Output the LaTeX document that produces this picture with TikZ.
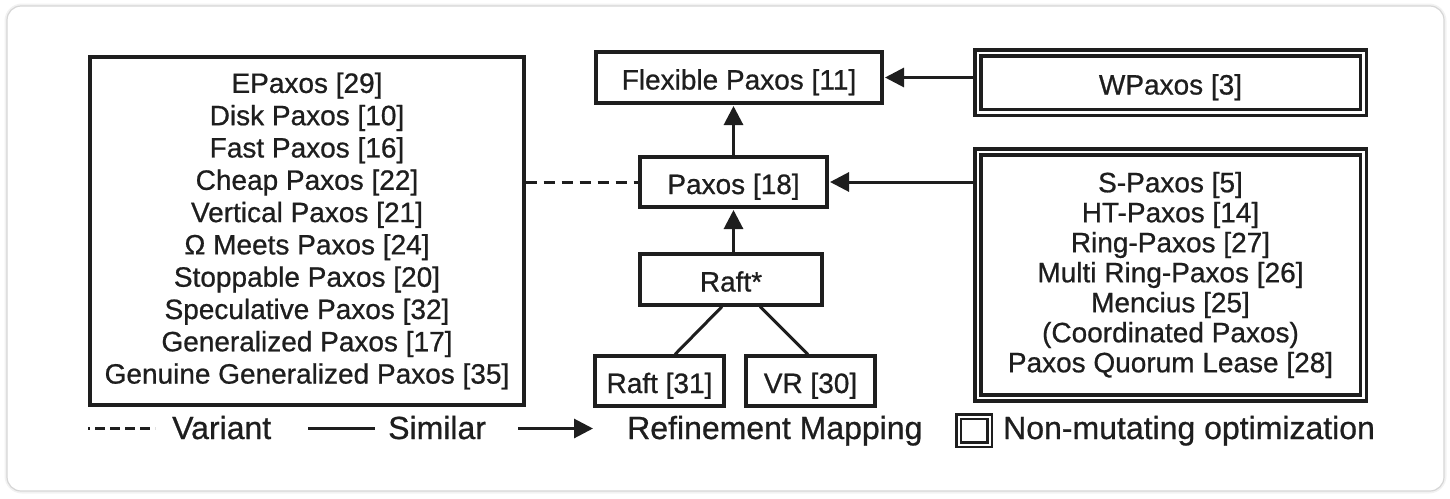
\documentclass[tikz,border=0pt]{standalone}
\usepackage{fontspec}
\setmainfont[FakeBold=0.7]{Liberation Sans}
\usetikzlibrary{arrows.meta,calc}
\definecolor{ink}{HTML}{1E1E1E}
\begin{document}
\begin{tikzpicture}[x=1pt,y=-1pt,
  box/.style={draw=ink, line width=3.2pt, inner sep=0pt, text=ink,
    font=\fontsize{28}{32.3}\selectfont, align=center},
  single/.style={text height=24pt, text depth=0pt},
  dbox/.style={box, double=white, double distance=2.5pt, line width=3.5pt},
  conn/.style={draw=ink, line width=3pt},
  refine/.style={conn, -{Triangle[length=19pt,width=19pt]}, shorten >=1.4pt},
  variant/.style={conn, dash pattern=on 11pt off 7pt},
  legtext/.style={anchor=base west, inner sep=0pt, text=ink,
    font=\fontsize{32}{36}\selectfont}
]
\useasboundingbox (0,0) rectangle (1450,498);
% card
\draw[black!5, line width=5pt, rounded corners=15pt] (7,6) rectangle (1444,491);
\draw[black!16, line width=1.2pt, rounded corners=14pt, fill=white] (7,6) rectangle (1444,491);

% nodes
\node[box, minimum width=434pt, minimum height=348pt] (variants) at (307,231)
  {EPaxos [29]\\Disk Paxos [10]\\Fast Paxos [16]\\Cheap Paxos [22]\\Vertical Paxos [21]\\%
   Ω Meets Paxos [24]\\Stoppable Paxos [20]\\Speculative Paxos [32]\\Generalized Paxos [17]\\%
   Genuine Generalized Paxos [35]};
\node[box, single, minimum width=286pt, minimum height=51pt] (flex) at (739,77.5) {Flexible Paxos [11]};
\node[box, single, minimum width=187pt, minimum height=50pt] (paxos) at (733.5,182) {Paxos [18]};
\node[box, single, minimum width=182pt, minimum height=51pt] (raftstar) at (731,279.5) {Raft*};
\node[box, single, minimum width=129pt, minimum height=50pt] (raft) at (659.5,381) {Raft [31]};
\node[box, single, minimum width=129pt, minimum height=50pt] (vr) at (810.5,381) {VR [30]};
\node[dbox, single, minimum width=385.5pt, minimum height=59.5pt] (wpaxos) at (1170.5,82.5) {WPaxos [3]};
\node[dbox, minimum width=385.5pt, minimum height=246pt, font=\fontsize{28}{30}\selectfont] (opts) at (1170.5,275)
  {S-Paxos [5]\\HT-Paxos [14]\\Ring-Paxos [27]\\Multi Ring-Paxos [26]\\Mencius [25]\\%
   (Coordinated Paxos)\\Paxos Quorum Lease [28]};

% connectors
\draw[refine] (paxos.north) -- (paxos.north |- flex.south);
\draw[refine, shorten <=3.5pt] (wpaxos.west |- flex.east) -- (flex.east);
\draw[refine, shorten <=3.5pt] (opts.west |- paxos.east) -- (paxos.east);
\draw[refine] (paxos.south |- raftstar.north) -- (paxos.south);
\draw[variant] (variants.east |- paxos.west) -- (paxos.west);
\draw[conn] ($(raftstar.south)+(-9,0)$) -- ($(raft.north)+(15.5,0)$);
\draw[conn] ($(raftstar.south)+(29,0)$) -- ($(vr.north)+(-2.5,0)$);

% legend
\coordinate (v1) at (88,428.5);
\coordinate (v2) at (155,428.5);
\draw[conn, line width=2.8pt, dash pattern=on 10pt off 5pt, dash phase=8pt] (v1) -- (v2);
\node[legtext] (lvar) at (172,439) {Variant};
\coordinate (s1) at (308,428.5);
\coordinate (s2) at (375,428.5);
\draw[conn] (s1) -- (s2);
\node[legtext] (lsim) at (388,439) {Similar};
\coordinate (r1) at (518,428.5);
\coordinate (r2) at (593,428.5);
\draw[refine, shorten >=0pt] (r1) -- (r2);
\node[legtext] (lref) at (627,439) {Refinement Mapping};
\node[dbox, line width=2.8pt, double distance=2pt, minimum width=31pt, minimum height=28pt] (licon) at (974,430.5) {};
\node[legtext] (lnon) at (1003,439) {Non-mutating optimization};
\end{tikzpicture}
\end{document}
